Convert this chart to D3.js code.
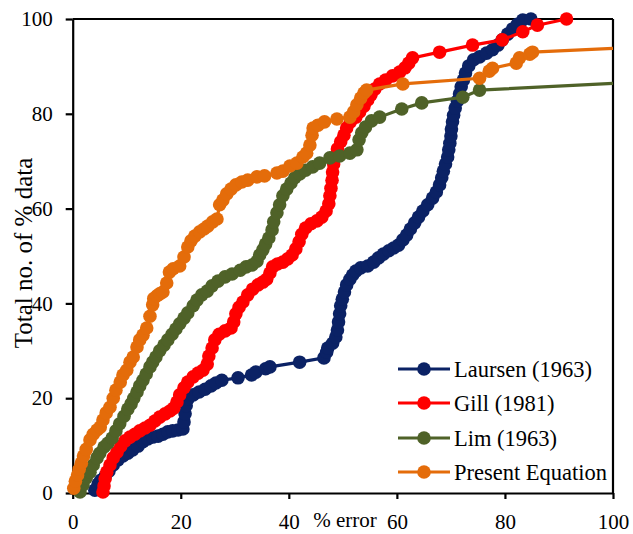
<!DOCTYPE html>
<html>
<head>
<meta charset="utf-8">
<script src="https://cdn.jsdelivr.net/npm/d3@7"></script>
<style>
  html, body { margin: 0; padding: 0; background: #fff; }
  svg { display: block; }
  text { font-family: "Liberation Serif", "Times New Roman", serif; fill: #000; }
</style>
</head>
<body>
<svg id="chart" width="633" height="534"></svg>
<script>
// ---------- data ----------
const seriesNames = ["Laursen (1963)", "Gill (1981)", "Lim (1963)", "Present Equation"];
const seriesColors = ["#0B2265", "#FF0000", "#4F6228", "#E46C0A"];
const xTicks = [0, 20, 40, 60, 80, 100];
const yTicks = [0, 20, 40, 60, 80, 100];

const laursen = [
  [4.1,0.6],[4.7,1.9],[5.2,2.7],[6.0,3.6],[6.7,4.6],[7.5,5.9],[8.4,7.0],[9.3,7.8],[10.2,8.4],[11.1,9.1],
  [12.1,9.9],[13.0,10.8],[13.9,11.4],[14.8,11.8],[15.8,12.0],[16.7,12.4],[17.6,12.9],[18.5,13.1],[19.5,13.3],[20.4,13.5],
  [20.6,15.0],[20.8,16.7],[21.0,18.4],[21.3,19.8],[22.3,20.7],[23.4,21.3],[24.5,21.9],[25.6,22.6],[26.5,23.2],[27.6,23.8],
  [30.6,24.3],[33.1,24.9],[33.9,25.5],[35.7,26.2],[36.5,26.6],[42.0,27.6],[46.5,28.5],[47.0,29.7],[47.2,30.6],[48.1,31.6],
  [48.7,32.9],[49.0,34.4],[49.2,36.1],[49.4,37.8],[49.6,39.5],[49.9,40.9],[50.3,42.4],[50.7,43.9],[51.3,45.1],[51.8,46.0],
  [52.4,46.8],[53.3,47.5],[54.6,47.9],[55.7,48.7],[56.6,49.6],[57.5,50.4],[58.5,51.1],[59.4,51.7],[60.3,52.3],[61.1,53.4],
  [61.8,54.4],[62.5,55.7],[63.3,57.0],[64.0,58.2],[64.8,59.5],[65.7,60.8],[66.6,62.2],[67.3,63.5],[67.9,65.0],[68.3,66.5],
  [68.6,67.9],[69.0,69.4],[69.4,70.9],[69.6,72.4],[69.8,73.8],[70.0,75.3],[70.1,76.8],[70.3,78.3],[70.5,79.7],[70.8,81.2],
  [71.2,82.7],[71.6,84.2],[71.9,85.7],[72.3,87.1],[72.7,88.6],[73.3,90.1],[74.2,91.4],[75.3,92.0],[76.6,92.8],[77.7,93.5],
  [78.7,94.5],[79.5,95.6],[80.5,96.8],[81.4,97.9],[82.3,98.9],[83.3,99.8],[84.8,100.0]
];

const gill = [
  [5.6,0.2],[5.8,1.5],[6.0,3.0],[6.3,4.4],[6.9,5.9],[7.5,7.4],[8.2,8.6],[8.9,9.9],[9.7,11.0],[10.6,11.8],
  [11.5,12.4],[12.4,13.1],[13.4,13.7],[14.3,14.3],[15.2,15.2],[16.1,16.0],[17.1,16.7],[18.0,17.3],[18.7,17.9],[19.3,19.2],
  [19.8,20.7],[20.6,22.2],[21.3,23.4],[22.3,24.5],[23.2,25.3],[24.1,25.9],[24.9,27.2],[25.2,28.9],[25.8,30.6],[26.3,32.3],
  [27.1,33.5],[28.2,34.2],[29.3,34.8],[29.8,36.1],[30.2,37.8],[30.8,39.2],[31.5,40.3],[32.4,41.8],[33.3,43.0],[34.3,43.9],
  [35.2,44.5],[35.9,45.1],[36.5,46.4],[37.0,47.7],[37.9,48.3],[38.9,48.7],[39.8,49.4],[40.6,50.2],[41.3,51.5],[41.9,53.0],
  [42.4,54.6],[43.1,55.9],[44.1,56.8],[45.2,57.4],[46.1,58.2],[46.9,59.5],[47.4,61.0],[47.6,62.7],[47.8,64.3],[48.0,66.0],
  [48.1,67.7],[48.3,69.4],[48.7,71.1],[49.0,72.6],[49.6,74.1],[50.2,75.5],[50.7,77.0],[51.4,78.3],[52.4,79.3],[53.1,80.4],
  [53.9,81.6],[54.6,82.9],[55.2,84.0],[55.9,85.2],[56.8,86.3],[57.9,87.1],[59.2,88.0],[60.5,88.8],[61.5,89.7],[62.2,90.7],
  [62.9,91.8],[67.9,93.0],[74.0,94.5],[79.5,95.6],[83.3,97.3],[86.0,98.7],[91.4,100.0]
];

const lim = [
  [1.35,0.2],[1.9,1.7],[2.5,3.2],[3.2,4.4],[3.8,5.9],[4.5,7.4],[5.0,8.4],[5.8,9.7],[6.5,10.5],[7.3,11.6],
  [8.0,13.1],[8.7,14.6],[9.5,16.2],[10.2,17.7],[10.8,18.8],[11.3,20.0],[11.9,21.3],[12.4,22.6],[13.0,23.8],[13.6,25.1],
  [14.3,26.6],[14.8,27.6],[15.4,28.7],[16.1,30.0],[16.9,31.2],[17.6,32.3],[18.4,33.5],[19.1,34.6],[19.8,35.7],[20.6,36.9],
  [21.3,38.0],[22.3,39.5],[23.0,40.7],[23.9,41.8],[24.9,42.6],[25.8,43.7],[26.9,44.7],[28.2,45.6],[29.5,46.2],[31.0,47.0],
  [32.1,47.7],[33.2,48.1],[34.1,48.9],[34.6,50.2],[35.2,51.3],[35.7,52.5],[36.3,53.8],[36.9,55.5],[37.2,57.2],[37.8,59.1],
  [38.3,60.8],[38.9,62.7],[39.6,64.1],[40.4,65.4],[41.1,66.5],[42.0,67.3],[43.1,68.1],[44.4,68.8],[45.7,69.6],[47.6,70.7],
  [49.4,71.1],[51.3,71.7],[52.6,72.4],[53.0,74.5],[53.5,76.0],[54.2,77.2],[55.3,78.5],[56.8,79.3],[60.9,81.0],[64.6,82.3],
  [72.2,83.5],[75.3,85.0]
];
const limLineEnd = [[100, 86.4]];

const present = [
  [0.2,1.0],[0.5,2.5],[0.9,3.8],[1.2,5.0],[1.6,6.3],[2.0,7.8],[2.5,9.2],[3.2,11.2],[3.8,12.4],[4.5,13.3],
  [5.1,13.9],[5.6,15.4],[6.2,16.9],[6.9,18.1],[7.5,20.0],[8.0,21.7],[8.8,23.4],[9.3,24.9],[10.0,25.9],[10.6,27.6],
  [11.2,28.7],[11.9,30.8],[12.4,32.3],[13.0,33.3],[13.7,34.8],[14.3,37.3],[14.8,39.7],[15.0,41.0],[15.6,41.6],[16.1,42.0],
  [16.7,42.4],[17.4,44.3],[17.9,46.6],[18.6,47.3],[19.8,47.9],[20.6,49.8],[21.3,51.9],[21.9,53.2],[22.6,54.2],[23.5,55.1],
  [24.3,55.7],[25.0,56.3],[25.9,57.2],[26.7,57.8],[27.2,60.8],[27.8,61.8],[28.5,63.1],[29.3,64.1],[30.2,65.0],[31.3,65.6],
  [32.4,66.0],[34.1,66.7],[35.5,66.9],[37.8,67.5],[38.9,67.9],[40.2,69.0],[41.5,69.6],[42.6,70.9],[43.3,71.7],[43.9,73.4],
  [44.3,75.5],[44.5,77.0],[45.4,77.6],[46.6,78.3],[48.9,78.9],[51.3,79.3],[52.0,80.4],[52.6,81.9],[53.3,83.3],[53.9,84.4],
  [54.4,85.0],[61.1,86.3],[75.3,87.5],[77.1,89.0],[77.7,89.6],[82.1,90.7],[82.7,91.8],[84.6,92.6],[85.1,93.0]
];
const presentLineEnd = [[100, 93.8]];

const seriesData = [laursen, gill, lim, present];
const seriesLineEnds = [[], [], limLineEnd, presentLineEnd];

// ---------- layout ----------
const svg = d3.select("#chart");
const x = d3.scaleLinear().domain([0, 100]).range([72.7, 613]);
const y = d3.scaleLinear().domain([0, 100]).range([493, 19]);

// axes
const xAxis = svg.append("g")
  .attr("transform", `translate(0,${y(0)})`)
  .call(d3.axisBottom(x).tickValues(xTicks).tickSize(6).tickSizeOuter(0).tickPadding(15));
const yAxis = svg.append("g")
  .attr("transform", `translate(${x(0)},0)`)
  .call(d3.axisLeft(y).tickValues(yTicks).tickSize(7).tickSizeOuter(0).tickPadding(13));

[xAxis, yAxis].forEach(g => {
  g.select(".domain").attr("stroke", "#000").attr("stroke-width", 2.2);
  g.selectAll(".tick line").attr("stroke", "#000").attr("stroke-width", 2.2);
  g.selectAll(".tick text").attr("font-size", 21).attr("fill", "#000")
    .attr("font-family", '"Liberation Serif", "Times New Roman", serif');
});

// frame (top and right)
svg.append("line").attr("x1", x(0)).attr("x2", x(100)).attr("y1", y(100)).attr("y2", y(100))
  .attr("stroke", "#000").attr("stroke-width", 2.2);
svg.append("line").attr("x1", x(100)).attr("x2", x(100)).attr("y1", y(100)).attr("y2", y(0))
  .attr("stroke", "#000").attr("stroke-width", 2.2);

// series
const line = d3.line().x(d => x(d[0])).y(d => y(d[1]));
seriesData.forEach((data, i) => {
  const g = svg.append("g");
  g.append("path")
    .datum(data.concat(seriesLineEnds[i]))
    .attr("d", line)
    .attr("fill", "none")
    .attr("stroke", seriesColors[i])
    .attr("stroke-width", 3.2);
  g.selectAll("circle").data(data).enter().append("circle")
    .attr("cx", d => x(d[0]))
    .attr("cy", d => y(d[1]))
    .attr("r", 6.8)
    .attr("fill", seriesColors[i]);
});

// axis titles
svg.append("text")
  .attr("transform", `translate(32,${253}) rotate(-90)`)
  .attr("text-anchor", "middle")
  .attr("font-size", 25)
  .text("Total no. of % data");
svg.append("text")
  .attr("x", 345).attr("y", 527)
  .attr("text-anchor", "middle")
  .attr("font-size", 21)
  .text("% error");

// legend
const legendY = [369, 403, 438, 472];
seriesNames.forEach((name, i) => {
  const g = svg.append("g");
  g.append("line").attr("x1", 398).attr("x2", 450).attr("y1", legendY[i]).attr("y2", legendY[i])
    .attr("stroke", seriesColors[i]).attr("stroke-width", 3.2);
  g.append("circle").attr("cx", 424).attr("cy", legendY[i]).attr("r", 6.8).attr("fill", seriesColors[i]);
  g.append("text").attr("x", 454).attr("y", legendY[i]).attr("dy", "0.35em")
    .attr("font-size", 22.5).text(name);
});
</script>
</body>
</html>
